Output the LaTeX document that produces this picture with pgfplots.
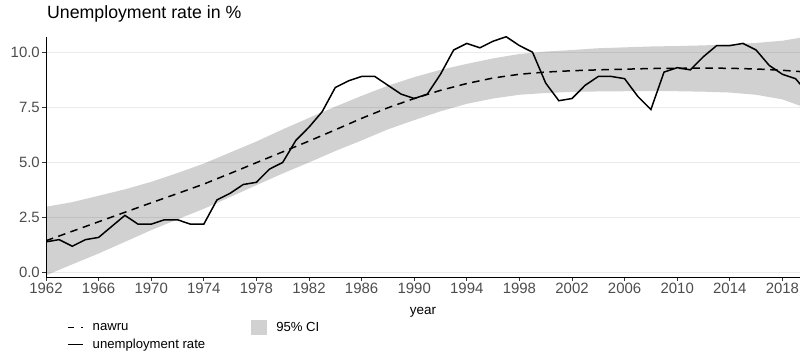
\documentclass[border=0pt]{standalone}
\usepackage{fontspec}
\setmainfont{Liberation Sans}
\usepackage{pgfplots}
\pgfplotsset{compat=1.18}
\usepgfplotslibrary{fillbetween}

\definecolor{ticklab}{HTML}{4D4D4D}
\definecolor{gridc}{HTML}{EBEBEB}
\newcommand{\tickfont}{\fontsize{15}{17}\selectfont}

\pgfplotsset{
  lineleg/.style={legend image code/.code={\draw[##1] (0bp,0bp) -- (15bp,0bp);}},
  boxleg/.style={legend image code/.code={\fill[##1, draw=none] (0bp,-7.5bp) rectangle (16bp,7.5bp);}},
}

% unemployment rate, yearly
\pgfplotstableread{
year rate
1962 1.4
1963 1.5
1964 1.2
1965 1.5
1966 1.6
1967 2.1
1968 2.6
1969 2.2
1970 2.2
1971 2.4
1972 2.4
1973 2.2
1974 2.2
1975 3.3
1976 3.6
1977 4.0
1978 4.1
1979 4.7
1980 5.0
1981 6.0
1982 6.6
1983 7.3
1984 8.4
1985 8.7
1986 8.9
1987 8.9
1988 8.5
1989 8.1
1990 7.9
1991 8.1
1992 9.0
1993 10.1
1994 10.4
1995 10.2
1996 10.5
1997 10.7
1998 10.3
1999 10.0
2000 8.6
2001 7.8
2002 7.9
2003 8.5
2004 8.9
2005 8.9
2006 8.8
2007 8.0
2008 7.4
2009 9.1
2010 9.3
2011 9.2
2012 9.8
2013 10.3
2014 10.3
2015 10.4
2016 10.1
2017 9.4
2018 9.0
2019 8.8
2020 8.1
}\urate

% nawru with 95% band
\pgfplotstableread{
year nawru lo hi
1962 1.45 -0.12 2.99
1964 1.88 0.38 3.20
1966 2.31 0.87 3.49
1968 2.74 1.40 3.78
1970 3.17 1.93 4.12
1972 3.59 2.42 4.52
1974 4.02 2.90 4.95
1976 4.50 3.43 5.45
1978 4.99 3.97 5.95
1980 5.48 4.50 6.50
1982 5.97 5.00 7.02
1984 6.48 5.52 7.53
1986 7.00 6.00 8.02
1988 7.48 6.50 8.48
1990 7.90 6.92 8.87
1992 8.27 7.32 9.20
1994 8.58 7.66 9.47
1996 8.83 7.90 9.72
1998 9.00 8.07 9.92
2000 9.10 8.15 10.03
2002 9.16 8.20 10.10
2004 9.20 8.22 10.18
2006 9.23 8.23 10.22
2008 9.26 8.23 10.26
2010 9.27 8.23 10.28
2012 9.28 8.21 10.31
2014 9.27 8.17 10.35
2016 9.24 8.07 10.42
2018 9.18 7.86 10.52
2019.4 9.12 7.56 10.66
}\nawru

\begin{document}
\begin{tikzpicture}
\begin{axis}[
  at={(0,0)}, anchor=south west,
  scale only axis, width=754bp, height=240bp,
  xmin=1962, xmax=2019.34, ymin=-0.195, ymax=10.69,
  axis x line*=bottom, axis y line*=left,
  axis line style={-, black, line width=1bp},
  tick align=outside, major tick length=4bp,
  tick style={color=black!80, line width=1bp},
  xtick={1962,1966,...,2018},
  ytick={0,2.5,5,7.5,10},
  xticklabel={\tickfont\pgfmathprintnumber[1000 sep={}, assume math mode=true]{\tick}},
  yticklabel={\tickfont\pgfmathprintnumber[fixed, fixed zerofill, precision=1, assume math mode=true]{\tick}},
  xticklabel style={text=ticklab, inner sep=2bp},
  yticklabel style={text=ticklab, inner sep=2bp},
  ymajorgrids, grid style={gridc, line width=1bp},
  title={\fontsize{17.8}{20}\selectfont Unemployment rate in \%},
  title style={at={(0.0013,1.054)}, anchor=base west, inner sep=0pt},
  xlabel={\fontsize{13.5}{16}\selectfont year},
  xlabel style={at={(0.5,-0.158)}, anchor=base, inner sep=0pt},
  legend columns=2,
  legend cell align=left,
  legend style={at={(0.0279,-0.179)}, anchor=north west, draw=none, fill=none,
    inner sep=0pt, row sep=2bp, font=\fontsize{13.2}{15}\selectfont,
    /tikz/every odd column/.append style={column sep=7bp},
    /tikz/every even column/.append style={column sep=44bp}},
]
\addplot[name path=hi, draw=none, forget plot] table[x=year, y=hi] {\nawru};
\addplot[name path=lo, draw=none, forget plot] table[x=year, y=lo] {\nawru};
\addplot[fill=black, fill opacity=0.18, draw=none, forget plot] fill between[of=hi and lo];
\addplot[black, line width=1.5bp, dash pattern=on 7.5bp off 5.5bp, forget plot]
  table[x=year, y=nawru] {\nawru};
\addplot[black, line width=1.5bp, forget plot] table[x=year, y=rate] {\urate};

\addlegendimage{lineleg, black, line width=1.5bp, dash pattern=on 6bp off 7.5bp}
\addlegendentry{nawru}
\addlegendimage{boxleg, fill=black, fill opacity=0.18}
\addlegendentry{95\% CI}
\addlegendimage{lineleg, black, line width=1.5bp}
\addlegendentry{unemployment rate}
\end{axis}
\pgfresetboundingbox
\path[use as bounding box] (-46bp,-77bp) rectangle (754bp,277bp);
\end{tikzpicture}
\end{document}
